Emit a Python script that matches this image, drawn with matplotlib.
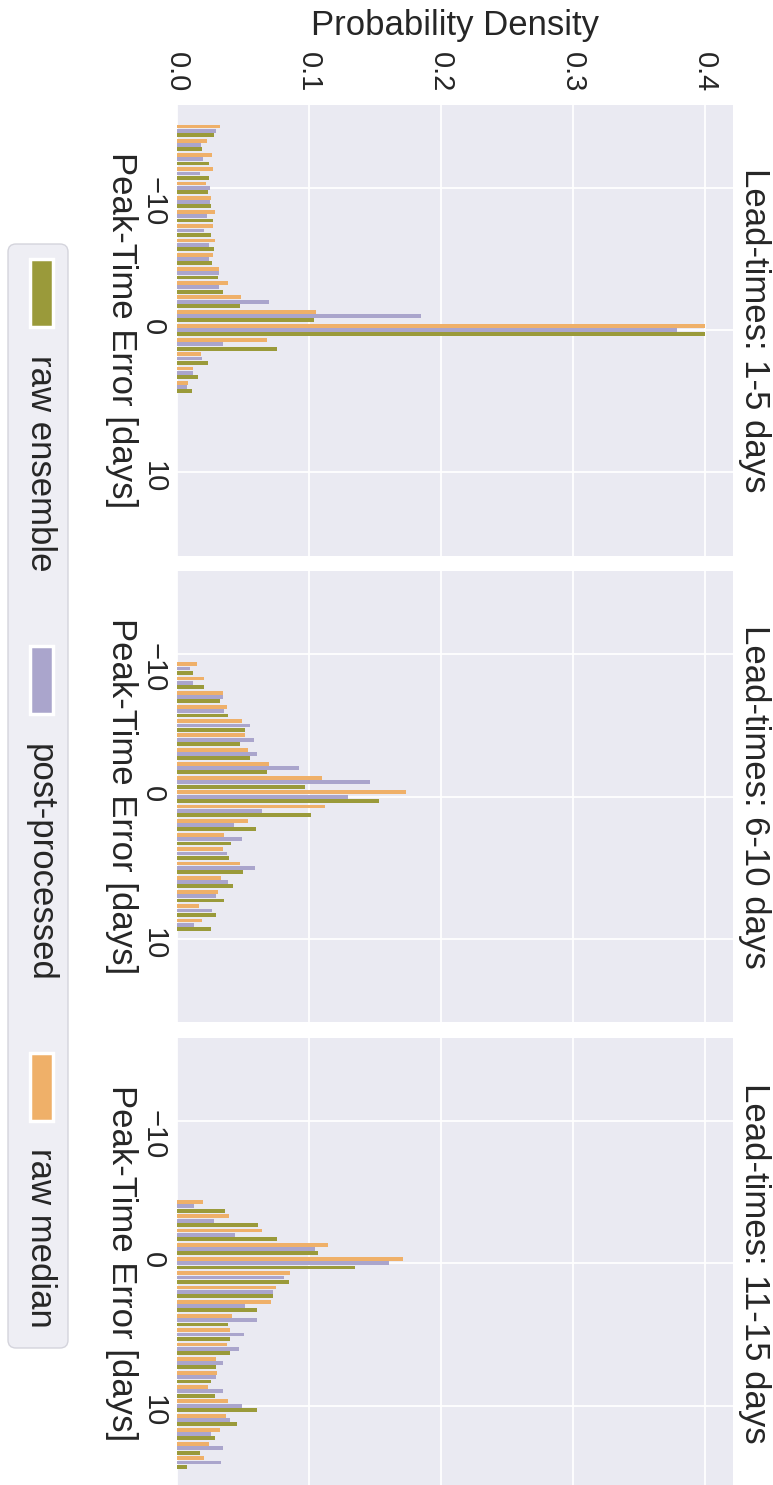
import matplotlib.pyplot as plt
from matplotlib.patches import FancyBboxPatch, Rectangle
from matplotlib.transforms import IdentityTransform
import numpy as np

plt.rcParams['font.family'] = ['Liberation Sans', 'DejaVu Sans']

W, H = 773, 1485

titles = ['Lead-times: 1-5 days', 'Lead-times: 6-10 days', 'Lead-times: 11-15 days']
labels = ['raw ensemble', 'post-processed', 'raw median']
colors = ['#9a9a3a', '#aaa5cc', '#efb069']

# peak-time error bins (days) for each lead-time panel
days_1 = list(range(-14, 5))
days_2 = list(range(-9, 10))
days_3 = list(range(-4, 15))

raw_ensemble_1 = [0.0280, 0.0189, 0.0245, 0.0245, 0.0232, 0.0257, 0.0270, 0.0257, 0.0280, 0.0267,
                  0.0310, 0.0346, 0.0477, 0.1035, 0.4000, 0.0760, 0.0238, 0.0162, 0.0111]
post_processed_1 = [0.0298, 0.0179, 0.0197, 0.0174, 0.0252, 0.0250, 0.0230, 0.0202, 0.0240, 0.0245,
                    0.0318, 0.0318, 0.0694, 0.1844, 0.3786, 0.0351, 0.0192, 0.0119, 0.0078]
raw_median_1 = [0.0323, 0.0227, 0.0262, 0.0270, 0.0220, 0.0257, 0.0288, 0.0275, 0.0288, 0.0275,
                0.0318, 0.0384, 0.0484, 0.1049, 0.4000, 0.0679, 0.0181, 0.0124, 0.0084]

raw_ensemble_2 = [0.0119, 0.0207, 0.0328, 0.0389, 0.0517, 0.0477, 0.0550, 0.0681, 0.0966, 0.1529,
                  0.1017, 0.0598, 0.0406, 0.0394, 0.0502, 0.0424, 0.0353, 0.0293, 0.0257]
post_processed_2 = [0.0101, 0.0124, 0.0346, 0.0356, 0.0550, 0.0580, 0.0603, 0.0926, 0.1464, 0.1297,
                    0.0643, 0.0434, 0.0495, 0.0381, 0.0590, 0.0389, 0.0298, 0.0267, 0.0129]
raw_median_2 = [0.0154, 0.0207, 0.0346, 0.0381, 0.0495, 0.0512, 0.0537, 0.0694, 0.1100, 0.1734,
                0.1118, 0.0537, 0.0353, 0.0346, 0.0477, 0.0333, 0.0310, 0.0169, 0.0189]

raw_ensemble_3 = [0.0363, 0.0613, 0.0757, 0.1070, 0.1350, 0.0845, 0.0727, 0.0603, 0.0386, 0.0404,
                  0.0399, 0.0295, 0.0260, 0.0290, 0.0603, 0.0454, 0.0290, 0.0172, 0.0076]
post_processed_3 = [0.0129, 0.0280, 0.0442, 0.1047, 0.1607, 0.0813, 0.0727, 0.0512, 0.0608, 0.0507,
                    0.0472, 0.0346, 0.0298, 0.0351, 0.0490, 0.0404, 0.0260, 0.0351, 0.0333]
raw_median_3 = [0.0194, 0.0394, 0.0643, 0.1141, 0.1708, 0.0853, 0.0752, 0.0714, 0.0416, 0.0404,
                0.0381, 0.0295, 0.0303, 0.0237, 0.0386, 0.0373, 0.0326, 0.0242, 0.0202]

density_ticks = [0.0, 0.1, 0.2, 0.3, 0.4]
error_ticks = [-10, 0, 10]

panels = [
    (days_1, raw_ensemble_1, post_processed_1, raw_median_1),
    (days_2, raw_ensemble_2, post_processed_2, raw_median_2),
    (days_3, raw_ensemble_3, post_processed_3, raw_median_3),
]


def fx(px):
    return px / W


def fy(py):
    return 1 - py / H


fig = plt.figure(figsize=(W / 100, H / 100), dpi=100)

# the whole chart is drawn turned a quarter turn clockwise
ax_left, ax_right = 177, 732.5
ax_h = 451.2
tops = [104.5, 571, 1037.7]

for i, (days, ens, post, med) in enumerate(panels):
    top = tops[i]
    ax = fig.add_axes([fx(ax_left), fy(top + ax_h), fx(ax_right - ax_left), ax_h / H])
    ax.set_facecolor('#eaeaf2')
    for s in ax.spines.values():
        s.set_visible(False)
    ax.grid(True, color='white', lw=1.3)
    ax.set_axisbelow(True)

    d = np.array(days)
    ax.barh(d + 0.3, ens, height=0.27, color=colors[0])
    ax.barh(d, post, height=0.27, color=colors[1])
    ax.barh(d - 0.3, med, height=0.27, color=colors[2])

    ax.set_xlim(0, 0.4206)
    ax.set_ylim(15.85, -15.85)

    ax.xaxis.tick_top()
    ax.set_xticks(density_ticks)
    if i == 0:
        ax.set_xticklabels([f'{t:.1f}' for t in density_ticks], rotation=-90, fontsize=21, color='#262626')
    else:
        ax.set_xticklabels([])
    ax.set_yticks(error_ticks)
    ax.set_yticklabels(['\u221210', '0', '10'], rotation=-90, fontsize=21, color='#262626')
    ax.tick_params(axis='both', length=0)
    ax.tick_params(axis='x', pad=9)
    ax.tick_params(axis='y', pad=7)

    mid = top + ax_h / 2
    fig.text(fx(755), fy(mid), titles[i], rotation=-90, ha='center', va='center',
             fontsize=25, color='#262626')
    fig.text(fx(121), fy(mid), 'Peak-Time Error [days]', rotation=-90, ha='center', va='center',
             fontsize=25, color='#262626')

fig.text(fx(455), fy(25), 'Probability Density', ha='center', va='center', fontsize=25, color='#262626')

# legend, built by hand so it can be turned with the rest
box = FancyBboxPatch((8, H - 1348), 60, 1104, boxstyle='round,pad=0,rounding_size=8',
                     transform=IdentityTransform(), facecolor='#eeeef4', edgecolor='#d4d4dc', lw=1)
fig.patches.append(box)
patch_tops = [259, 646, 1053]
text_mid = [463, 863, 1238]
for i in range(3):
    r = Rectangle((30, H - patch_tops[i] - 68), 23, 68, transform=IdentityTransform(),
                  facecolor=colors[i], edgecolor='white', lw=2.5)
    fig.patches.append(r)
    fig.text(fx(40), fy(text_mid[i]), labels[i], rotation=-90, ha='center', va='center',
             fontsize=25, color='#262626')

fig.savefig('out.png', dpi=100)
